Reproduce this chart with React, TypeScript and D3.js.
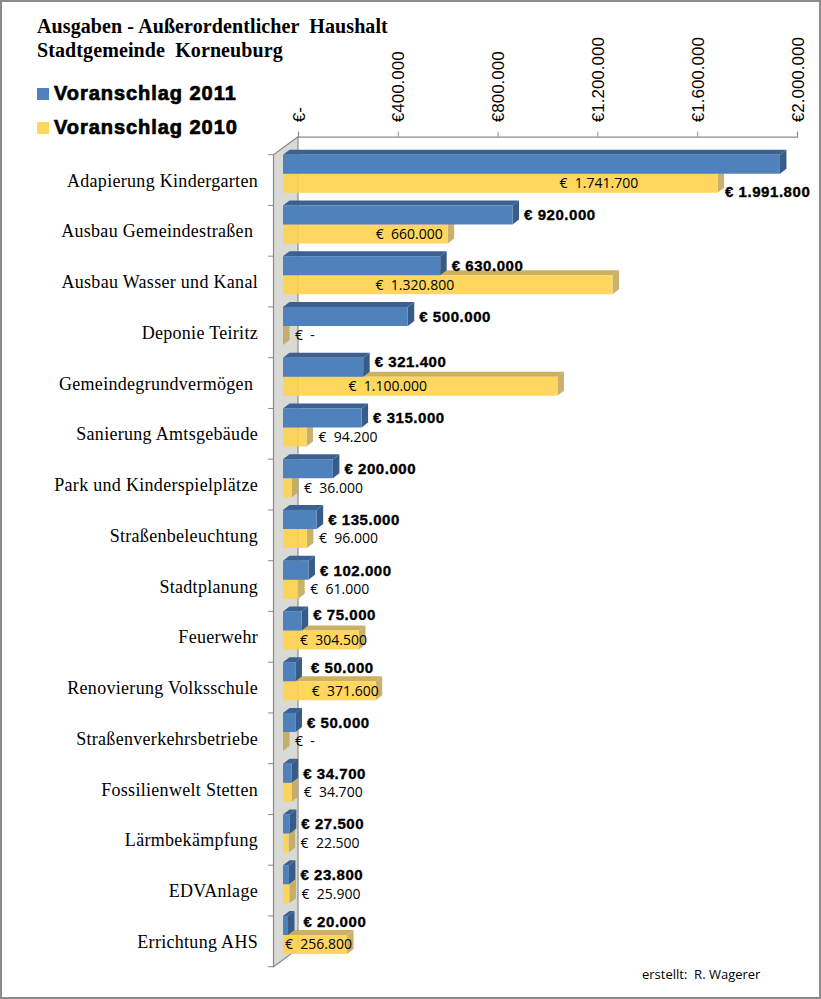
import { useEffect, useRef } from 'react';
import * as d3 from 'd3';

const categories = [
  'Adapierung Kindergarten', 'Ausbau Gemeindestraßen\u00a0', 'Ausbau Wasser und Kanal', 'Deponie Teiritz',
  'Gemeindegrundvermögen\u00a0', 'Sanierung Amtsgebäude', 'Park und Kinderspielplätze', 'Straßenbeleuchtung',
  'Stadtplanung', 'Feuerwehr', 'Renovierung Volksschule', 'Straßenverkehrsbetriebe',
  'Fossilienwelt Stetten', 'Lärmbekämpfung', 'EDVAnlage', 'Errichtung AHS',
];
const values2011 = [1991800, 920000, 630000, 500000, 321400, 315000, 200000, 135000, 102000, 75000, 50000, 50000, 34700, 27500, 23800, 20000];
const values2010 = [1741700, 660000, 1320800, 0, 1100000, 94200, 36000, 96000, 61000, 304500, 371600, 0, 34700, 22500, 25900, 256800];
const axisTicks = [0, 400000, 800000, 1200000, 1600000, 2000000];
const titleLines = ['Ausgaben - Außerordentlicher  Haushalt', 'Stadtgemeinde  Korneuburg'];
const seriesNames = ['Voranschlag 2011', 'Voranschlag 2010'];

// labels that were dragged by hand in the original
const label2011Moved: Record<number, [number, number]> = { 4: [0, -6], 9: [0, -6], 10: [4, -4], 15: [4, -4] };
const label2010Moved: Record<number, number> = { 0: -158, 1: -72, 2: -237, 4: -209, 9: -59, 10: -64, 15: -62 };

const width = 821;
const height = 999;
const depthX = 6.5;
const depthY = -5;

const locale = d3.formatLocale({ decimal: ',', thousands: '.', grouping: [3], currency: ['€', ''] });
const fmt = locale.format(',.0f');

export default function App() {
  const svgRef = useRef<SVGSVGElement>(null);

  useEffect(() => {
    if (!svgRef.current) return;
    const svg = d3.select(svgRef.current);
    svg.selectAll('*').remove();

    svg.append('rect').attr('x', 1).attr('y', 1).attr('width', width - 2).attr('height', height - 2)
      .attr('fill', 'white').attr('stroke', '#8c8c8c').attr('stroke-width', 2);

    // title
    titleLines.forEach((line, i) => {
      svg.append('text').attr('x', 37).attr('y', 33 + i * 24)
        .style('white-space', 'pre')
        .style('font-family', '"Liberation Serif"').style('font-weight', 'bold').style('font-size', '20px')
        .style('letter-spacing', '0.1px')
        .text(line);
    });

    // legend
    const colors = ['#4f81bd', '#ffd75e'];
    seriesNames.forEach((name, i) => {
      svg.append('rect').attr('x', 37).attr('y', 88 + i * 34).attr('width', 12).attr('height', 12).attr('fill', colors[i]);
      svg.append('text').attr('x', 54).attr('y', 100 + i * 34)
        .style('font-family', '"Liberation Sans"').style('font-weight', 'bold').style('font-size', '20px')
        .style('letter-spacing', '0.95px')
        .attr('stroke', 'black').attr('stroke-width', 0.7)
        .text(name);
    });

    const x = d3.scaleLinear().domain([0, 2000000]).range([298, 797]);
    const xBar = d3.scaleLinear().domain([0, 2000000]).range([283, 782]);
    const y = d3.scaleBand().domain(categories).range([154.7, 966.7]).paddingInner(0.25).paddingOuter(0.125).align(0);
    const barH = y.bandwidth() / 2;

    // side wall
    const wallTop = 154.7;
    const wallBottom = 966.7;
    svg.append('path')
      .attr('d', `M273.5,${wallTop}L298,136.7L298,${wallBottom - 18}L273.5,${wallBottom}Z`)
      .attr('fill', '#d9d9d6').attr('stroke', '#8c8c8c').attr('stroke-width', 1.2);

    // row ticks
    d3.range(categories.length + 1).forEach(i => {
      const ty = wallTop + i * y.step();
      svg.append('line').attr('x1', 268).attr('x2', 273.5).attr('y1', ty).attr('y2', ty)
        .attr('stroke', '#8c8c8c');
    });

    // value axis
    const axis = svg.append('g').attr('transform', 'translate(0,136.7)')
      .call(d3.axisTop(x).tickValues(axisTicks).tickSize(5).tickPadding(10)
        .tickFormat(d => (+d === 0 ? '€-' : '€' + fmt(+d))));
    axis.select('.domain').attr('stroke', '#8c8c8c').attr('stroke-width', 1.2);
    axis.selectAll('line').attr('stroke', '#8c8c8c');
    axis.selectAll('text')
      .attr('transform', 'rotate(-90)').attr('x', 14.5).attr('y', 6).attr('dy', 0)
      .attr('text-anchor', 'start')
      .style('font-family', '"Liberation Sans"').style('font-size', '17px').attr('fill', 'black');

    const drawBar = (g: any, top: number, v: number, front: string, topFace: string, side: string, opacity: number) => {
      const x0 = xBar(0);
      const x1 = xBar(v);
      g.append('path')
        .attr('d', `M${x0},${top}L${x0 + depthX},${top + depthY}L${x1 + depthX},${top + depthY}L${x1},${top}Z`)
        .attr('fill', topFace).attr('fill-opacity', opacity);
      g.append('path')
        .attr('d', `M${x1},${top}L${x1 + depthX},${top + depthY}L${x1 + depthX},${top + barH + depthY}L${x1},${top + barH}Z`)
        .attr('fill', side).attr('fill-opacity', opacity);
      g.append('rect').attr('x', x0).attr('y', top).attr('width', x1 - x0).attr('height', barH)
        .attr('fill', front).attr('fill-opacity', opacity);
    };

    // bars
    categories.forEach((c, i) => {
      const top = y(c)!;
      const g = svg.append('g');
      drawBar(g, top + barH, values2010[i], '#ffd34f', '#c9a94f', '#c4a85c', 0.9);
      drawBar(g, top, values2011[i], '#4f81bd', '#3c6191', '#365c87', 1);
    });

    // category labels
    categories.forEach(c => {
      svg.append('text').attr('x', 258).attr('y', y(c)! + 32)
        .attr('text-anchor', 'end')
        .style('font-family', '"Liberation Serif"').style('font-size', '18px').style('letter-spacing', '0.3px')
        .text(c);
    });

    // value labels
    categories.forEach((c, i) => {
      const top = y(c)!;
      const moved = label2011Moved[i] ?? [0, 0];
      const x2011 = i === 0 ? 725 : xBar(values2011[i]) + 11.5 + moved[0];
      const y2011 = i === 0 ? 197 : top + barH / 2 + 5.5 + moved[1];
      svg.append('text').attr('x', x2011).attr('y', y2011)
        .style('font-family', '"Liberation Sans"').style('font-weight', 'bold').style('font-size', '15px')
        .style('letter-spacing', '0.55px').style('white-space', 'pre')
        .attr('stroke', 'black').attr('stroke-width', 0.35)
        .text('€ ' + fmt(values2011[i]));

      const dx = label2010Moved[i] ?? 12;
      svg.append('text').attr('x', xBar(values2010[i]) + dx).attr('y', top + barH * 1.5 + 5)
        .style('font-family', '"Open Sans"').style('font-size', '14px')
        .style('white-space', 'pre')
        .text(values2010[i] === 0 ? '€  -' : '€  ' + fmt(values2010[i]));
    });

    svg.append('text').attr('x', 642).attr('y', 979)
      .style('font-family', '"Open Sans"').style('font-size', '13px').style('white-space', 'pre')
      .text('erstellt:  R. Wagerer');
  }, []);

  return (
    <svg ref={svgRef} width={width} height={height} viewBox={`0 0 ${width} ${height}`}
      style={{ position: 'absolute', left: 0, top: 0 }} />
  );
}
